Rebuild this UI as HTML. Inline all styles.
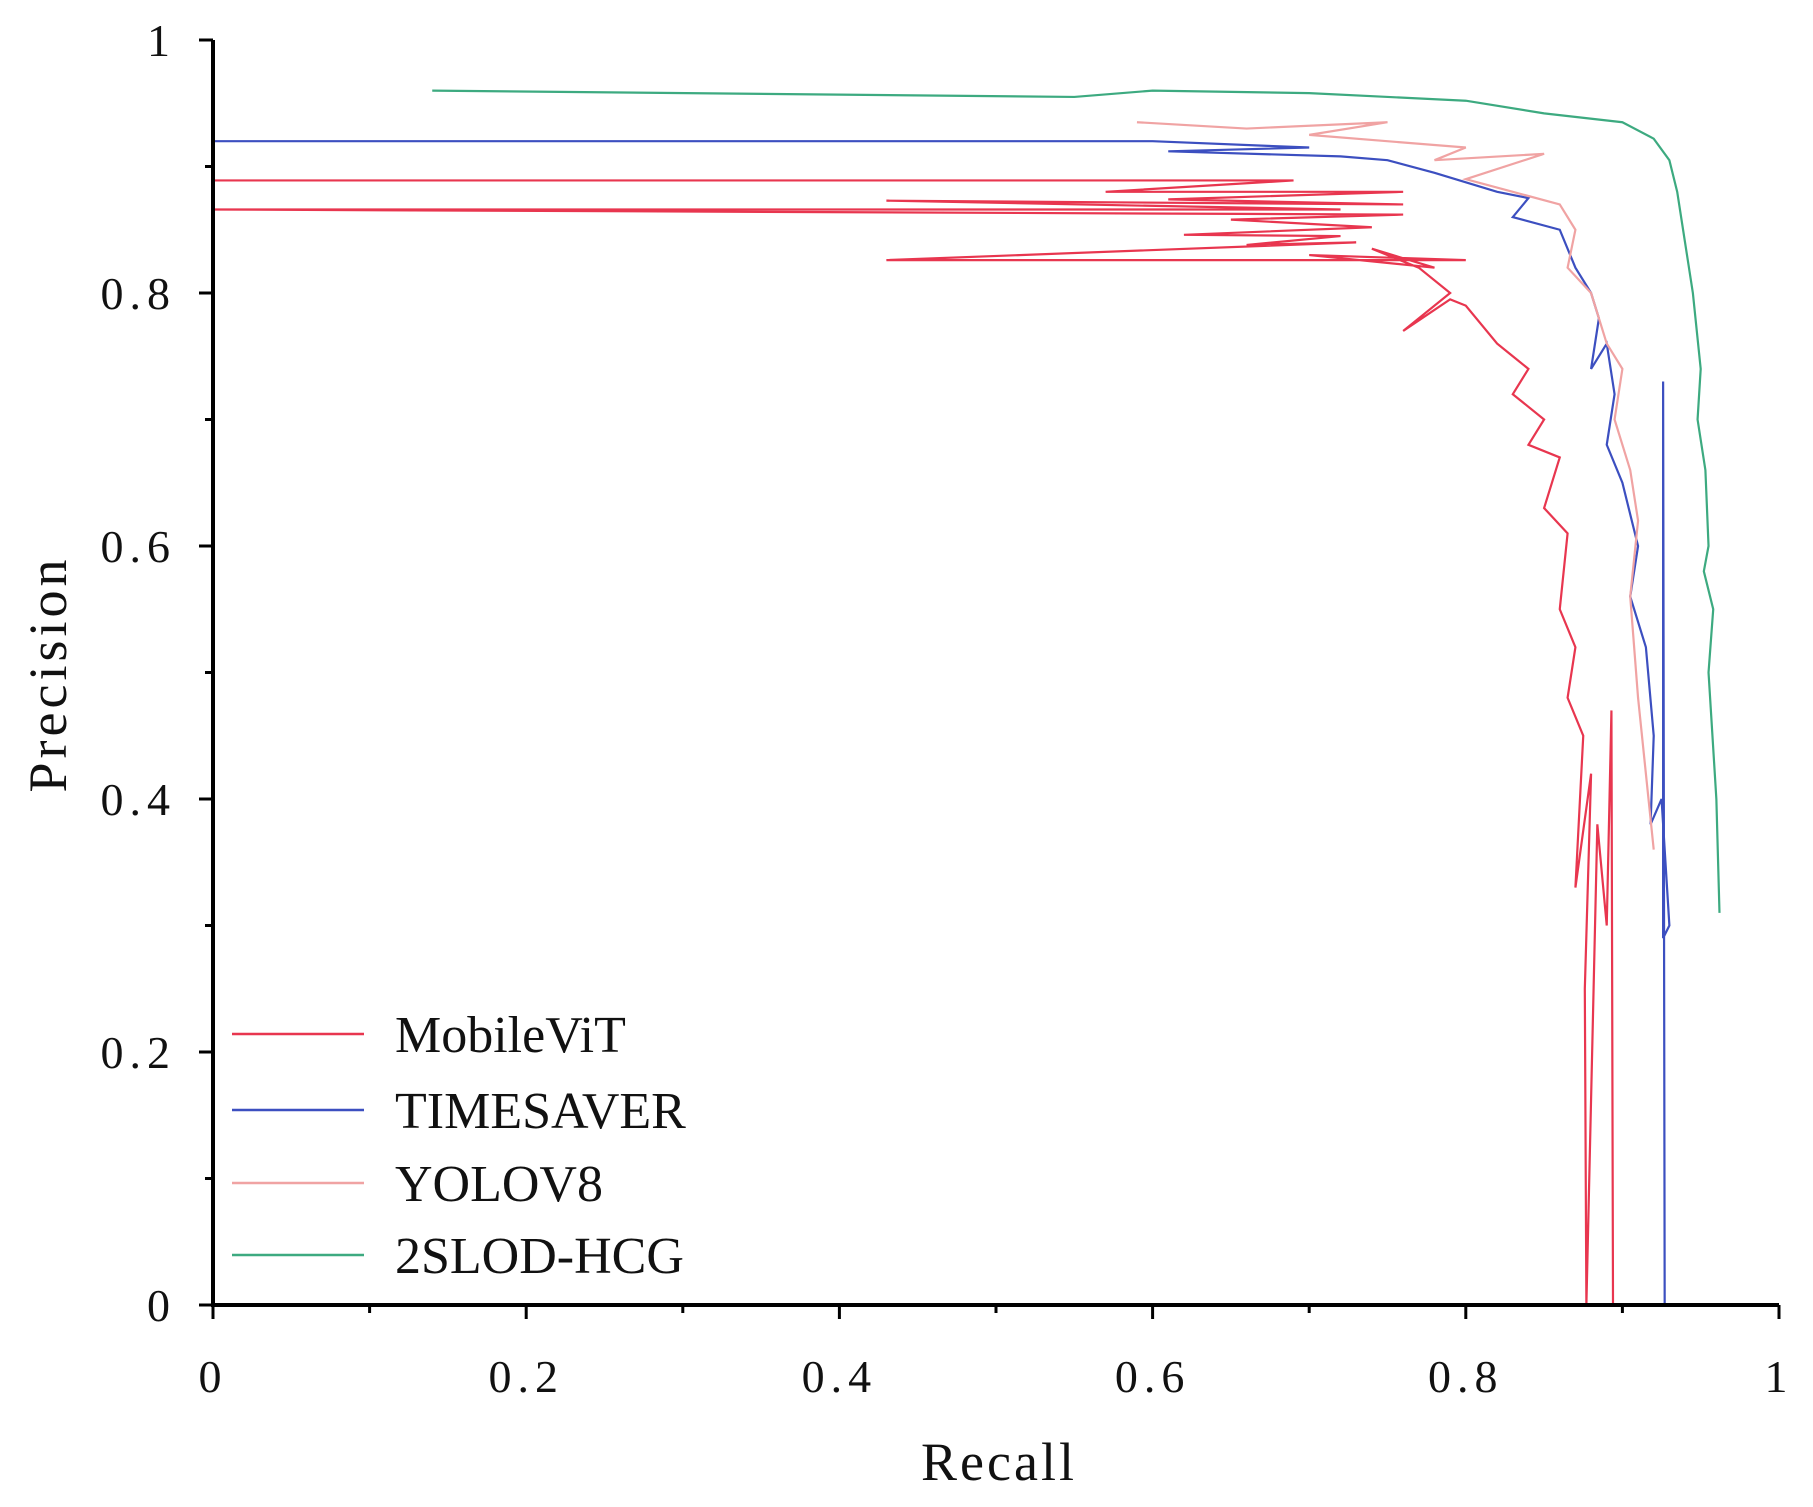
<!DOCTYPE html>
<html><head><meta charset="utf-8"><style>
html,body{margin:0;padding:0;background:#fff}
svg text{font-family:"Liberation Serif","Noto Serif CJK SC",serif;fill:#111}
</style></head><body>
<svg id="chart" width="1813" height="1502" viewBox="0 0 1813 1502" xmlns="http://www.w3.org/2000/svg">
<g id="plot"></g>
<g id="axes"></g>
<g id="legend"></g>
</svg>
<script>
const xTicks=[0,0.2,0.4,0.6,0.8,1];
const yTicks=[0,0.2,0.4,0.6,0.8,1];
const xTickLabels=["0","0.2","0.4","0.6","0.8","1"];
const yTickLabels=["0","0.2","0.4","0.6","0.8","1"];
const seriesNames=["MobileViT","TIMESAVER","YOLOV8","2SLOD-HCG"];
const mobileVit=[[0,0.889],[0.69,0.889],[0.57,0.88],[0.76,0.88],[0.61,0.874],[0.76,0.87],[0.43,0.873],[0.72,0.866],[0,0.866],[0.76,0.862],[0.65,0.858],[0.74,0.852],[0.62,0.846],[0.72,0.845],[0.66,0.838],[0.73,0.84],[0.43,0.826],[0.80,0.826],[0.70,0.83],[0.78,0.82],[0.74,0.835],[0.77,0.82],[0.79,0.80],[0.76,0.77],[0.79,0.795],[0.80,0.79],[0.82,0.76],[0.83,0.75],[0.84,0.74],[0.83,0.72],[0.85,0.70],[0.84,0.68],[0.86,0.67],[0.85,0.63],[0.865,0.61],[0.86,0.55],[0.87,0.52],[0.865,0.48],[0.875,0.45],[0.87,0.33],[0.88,0.42],[0.876,0.25],[0.877,0],[0.884,0.38],[0.89,0.30],[0.893,0.47],[0.894,0]];
const timesaver=[[0,0.92],[0.6,0.92],[0.7,0.915],[0.61,0.912],[0.72,0.908],[0.75,0.905],[0.78,0.895],[0.82,0.88],[0.84,0.875],[0.83,0.86],[0.86,0.85],[0.87,0.82],[0.88,0.80],[0.885,0.78],[0.88,0.74],[0.89,0.76],[0.895,0.72],[0.89,0.68],[0.90,0.65],[0.91,0.60],[0.905,0.56],[0.915,0.52],[0.92,0.45],[0.918,0.38],[0.925,0.40],[0.93,0.30],[0.926,0.29],[0.926,0.73],[0.927,0]];
const yolov8=[[0.59,0.935],[0.66,0.93],[0.75,0.935],[0.70,0.925],[0.80,0.915],[0.78,0.905],[0.85,0.91],[0.80,0.89],[0.83,0.88],[0.86,0.87],[0.87,0.85],[0.865,0.82],[0.88,0.80],[0.89,0.76],[0.90,0.74],[0.895,0.70],[0.905,0.66],[0.91,0.62],[0.905,0.56],[0.91,0.48],[0.915,0.42],[0.92,0.36]];
const slod=[[0.14,0.96],[0.55,0.955],[0.60,0.96],[0.70,0.958],[0.80,0.952],[0.85,0.942],[0.90,0.935],[0.92,0.922],[0.93,0.905],[0.935,0.88],[0.94,0.84],[0.945,0.80],[0.95,0.74],[0.948,0.70],[0.953,0.66],[0.955,0.60],[0.952,0.58],[0.958,0.55],[0.955,0.50],[0.96,0.40],[0.962,0.31]];
const allSeries=[mobileVit,timesaver,yolov8,slod];
const colors=["#e8364f","#3c4fc0","#f0a3a3","#3daa80"];
const X0=213,X1=1779,Y0=1305,Y1=40;
const sx=v=>X0+v*(X1-X0), sy=v=>Y0-v*(Y0-Y1);
const NS="http://www.w3.org/2000/svg";
function mk(tag,parent){const e=document.createElementNS(NS,tag);parent.appendChild(e);return e;}
const plot=document.getElementById('plot'),axes=document.getElementById('axes'),legend=document.getElementById('legend');
allSeries.forEach((s,i)=>{
  const p=mk('polyline',plot);
  
  
  p.setAttribute('points',s.map(d=>sx(d[0])+','+sy(d[1])).join(' '));
  p.setAttribute('fill','none');p.setAttribute('stroke',colors[i]);p.setAttribute('stroke-width','2.2');
});
let l=mk('line',axes);


l.setAttribute('x1',X0);l.setAttribute('x2',X1);l.setAttribute('y1',Y0);l.setAttribute('y2',Y0);l.setAttribute('stroke','#000');l.setAttribute('stroke-width','4');
l=mk('line',axes);


l.setAttribute('x1',X0);l.setAttribute('x2',X0);l.setAttribute('y1',Y0+2);l.setAttribute('y2',Y1);l.setAttribute('stroke','#000');l.setAttribute('stroke-width','4');
for(let k=0;k<=10;k++){
  const v=k/10,major=k%2===0,len=major?14:8;
  let t=mk('line',axes);
  
  
  t.setAttribute('x1',sx(v));t.setAttribute('x2',sx(v));t.setAttribute('y1',Y0);t.setAttribute('y2',Y0+len);t.setAttribute('stroke','#000');t.setAttribute('stroke-width','3');
  t=mk('line',axes);
  
  
  t.setAttribute('x1',X0-len);t.setAttribute('x2',X0);t.setAttribute('y1',sy(v));t.setAttribute('y2',sy(v));t.setAttribute('stroke','#000');t.setAttribute('stroke-width','3');
}
xTicks.forEach((v,i)=>{
  const t=mk('text',axes);
  
  
  t.setAttribute('x',sx(v));t.setAttribute('y',1392);t.setAttribute('text-anchor','middle');t.setAttribute('font-size','46');t.setAttribute('letter-spacing','6');
  t.textContent=xTickLabels[i];
});
yTicks.forEach((v,i)=>{
  const t=mk('text',axes);
  
  
  t.setAttribute('x',176);t.setAttribute('y',sy(v)+16);t.setAttribute('text-anchor','end');t.setAttribute('font-size','46');t.setAttribute('letter-spacing','6');
  t.textContent=yTickLabels[i];
});
let xt=mk('text',axes);


xt.setAttribute('x',999);xt.setAttribute('y',1480);xt.setAttribute('text-anchor','middle');xt.setAttribute('font-size','54');xt.setAttribute('letter-spacing','3');xt.textContent='Recall';
let yt=mk('text',axes);


yt.setAttribute('transform','translate(66,674) rotate(-90)');yt.setAttribute('text-anchor','middle');yt.setAttribute('font-size','54');yt.setAttribute('letter-spacing','4');yt.textContent='Precision';
const legY=[1034,1110,1183,1255];
seriesNames.forEach((n,i)=>{
  const g=mk('g',legend);
  
  
  const ln=mk('line',g);
  ln.setAttribute('x1',232);ln.setAttribute('x2',364);ln.setAttribute('y1',legY[i]);ln.setAttribute('y2',legY[i]);ln.setAttribute('stroke',colors[i]);ln.setAttribute('stroke-width','2.5');
  const t=mk('text',g);
  t.setAttribute('x',395);t.setAttribute('y',legY[i]+18);t.setAttribute('font-size','52');t.textContent=n;
});
</script>
</body></html>
